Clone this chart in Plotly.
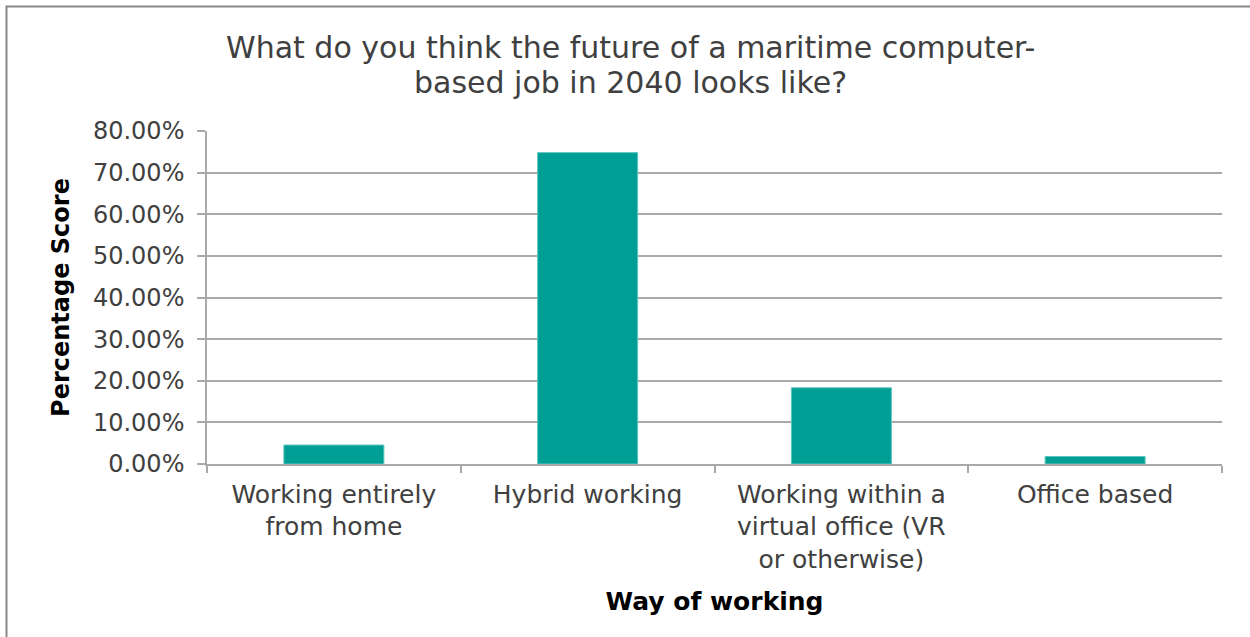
import plotly.graph_objects as go

categories = ["Working entirely<br>from home", "Hybrid working",
              "Working within a<br>virtual office (VR<br>or otherwise)", "Office based"]
values = [0.0455, 0.748, 0.183, 0.018]
y_ticks = [0, 0.1, 0.2, 0.3, 0.4, 0.5, 0.6, 0.7, 0.8]
title_lines = ["What do you think the future of a maritime computer-",
               "based job in 2040 looks like?"]

W, H = 1250, 637
L, R, T, B = 207, 1222, 131, 464
FONT = "DejaVu Sans"


def px_to_paper_x(px):
    return (px - L) / (R - L)


def px_to_paper_y(py):
    return (B - py) / (B - T)


fig = go.Figure(go.Bar(
    x=categories, y=values,
    marker=dict(color="#009F95", line=dict(color="#5cc5be", width=1)),
    width=0.394,
))

annotations = []
for line, cy in zip(title_lines, [48, 83]):
    annotations.append(dict(
        text=line, xref="paper", yref="paper",
        x=px_to_paper_x(630), y=px_to_paper_y(cy),
        xanchor="center", yanchor="middle", showarrow=False,
        font=dict(family=FONT, size=30, color="#404040")))

fig.update_layout(
    width=W, height=H,
    margin=dict(l=L, r=W - R, t=T, b=H - B),
    plot_bgcolor="white", paper_bgcolor="white",
    showlegend=False,
    annotations=annotations,
    xaxis=dict(
        type="category",
        showline=True, linecolor="#a9a9a9", linewidth=1.5,
        ticks="outside", tickson="boundaries", ticklen=7, tickcolor="#a9a9a9", tickwidth=1.5,
        tickfont=dict(family=FONT, size=25, color="#404040"),
        ticklabelstandoff=7,
        title=dict(text="<b>Way of working</b>", font=dict(family=FONT, size=25, color="#000000"), standoff=20),
        showgrid=False,
    ),
    yaxis=dict(
        range=[0, 0.8], tickvals=y_ticks, tickformat=".2%",
        showline=True, linecolor="#a9a9a9", linewidth=1.5,
        ticks="outside", ticklen=8, tickcolor="#a9a9a9", tickwidth=1.5,
        ticklabelstandoff=8,
        showgrid=True, gridcolor="#a9a9a9", gridwidth=1.5,
        tickfont=dict(family=FONT, size=24, color="#404040"),
        title=dict(text="<b>Percentage Score</b>", font=dict(family=FONT, size=24, color="#000000"), standoff=17),
        zeroline=False,
    ),
    shapes=[dict(type="rect", xref="paper", yref="paper",
                 x0=px_to_paper_x(6.5), x1=px_to_paper_x(1265),
                 y0=px_to_paper_y(660), y1=px_to_paper_y(6.5),
                 line=dict(color="#888888", width=2), fillcolor="rgba(0,0,0,0)", layer="below")],
)

fig.write_html("out.html", config={"displayModeBar": False},
               post_script="document.body.style.margin='0px';")
